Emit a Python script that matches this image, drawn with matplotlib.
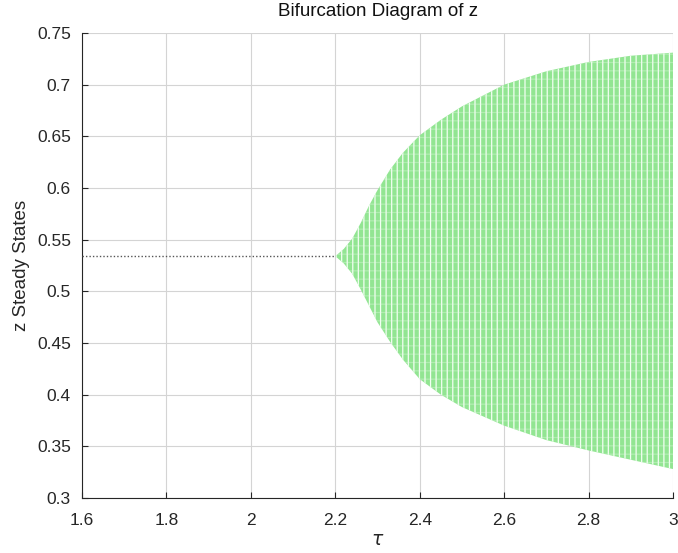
import matplotlib
matplotlib.use("Agg")
import matplotlib.pyplot as plt

# stable branch (single steady state before the bifurcation)
stable_tau = [1.6, 2.2]
stable_z = [0.534, 0.534]

# envelope of the oscillating branch
osc_tau = [2.2, 2.22, 2.24, 2.26, 2.28, 2.3, 2.33, 2.36, 2.4, 2.45, 2.5,
           2.6, 2.7, 2.8, 2.9, 3.0]
osc_upper = [0.534, 0.541, 0.551, 0.566, 0.583, 0.598, 0.618, 0.634, 0.651,
             0.666, 0.679, 0.700, 0.713, 0.722, 0.728, 0.731]
osc_lower = [0.534, 0.527, 0.517, 0.502, 0.486, 0.470, 0.451, 0.434, 0.415,
             0.400, 0.388, 0.370, 0.356, 0.346, 0.337, 0.328]

x_ticks = [1.6, 1.8, 2.0, 2.2, 2.4, 2.6, 2.8, 3.0]
x_labels = ["1.6", "1.8", "2", "2.2", "2.4", "2.6", "2.8", "3"]
y_ticks = [0.3, 0.35, 0.4, 0.45, 0.5, 0.55, 0.6, 0.65, 0.7, 0.75]
y_labels = ["0.3", "0.35", "0.4", "0.45", "0.5", "0.55", "0.6", "0.65", "0.7", "0.75"]

plt.rcParams['font.family'] = ['Liberation Sans', 'DejaVu Sans']
plt.rcParams['hatch.linewidth'] = 0.9

fig = plt.figure(figsize=(6.78, 5.53), dpi=100)
ax = fig.add_axes([0.121, 0.0995, 0.8716, 0.8408])

# green cloud of points after the Hopf bifurcation
ax.fill_between(osc_tau, osc_lower, osc_upper, facecolor='#92e592',
                edgecolor='#f2fff2', hatch='|||', linewidth=0, zorder=2)
ax.fill_between(osc_tau, osc_lower, osc_upper, facecolor='none',
                edgecolor='#e8fbe8', hatch='--', linewidth=0, alpha=0.35, zorder=2)

# dotted stable branch
ax.plot(stable_tau, stable_z, linestyle=(0, (1, 1.5)), color='#555555',
        linewidth=1.0, zorder=3)

ax.set_xlim(1.6, 3.0)
ax.set_ylim(0.3, 0.75)
ax.set_xticks(x_ticks)
ax.set_xticklabels(x_labels)
ax.set_yticks(y_ticks)
ax.set_yticklabels(y_labels)

ax.grid(True, color='#d4d4d4', linewidth=0.8, zorder=0)
ax.set_axisbelow(True)
ax.tick_params(direction='in', length=4, labelsize=12.5, colors='#262626')
ax.tick_params(axis='x', pad=11)
ax.tick_params(axis='y', pad=8)

for side in ['top', 'right']:
    ax.spines[side].set_visible(False)
for side in ['left', 'bottom']:
    ax.spines[side].set_color('#262626')
    ax.spines[side].set_linewidth(0.8)

ax.set_title("Bifurcation Diagram of z", fontsize=13.5, color='#111111', pad=12)
ax.set_ylabel("z Steady States", fontsize=13.5, color='#262626', labelpad=5)
ax.set_xlabel(r"$\tau$", fontsize=13.5, color='#262626', labelpad=3)

fig.savefig("out.png", dpi=100, facecolor='white')
